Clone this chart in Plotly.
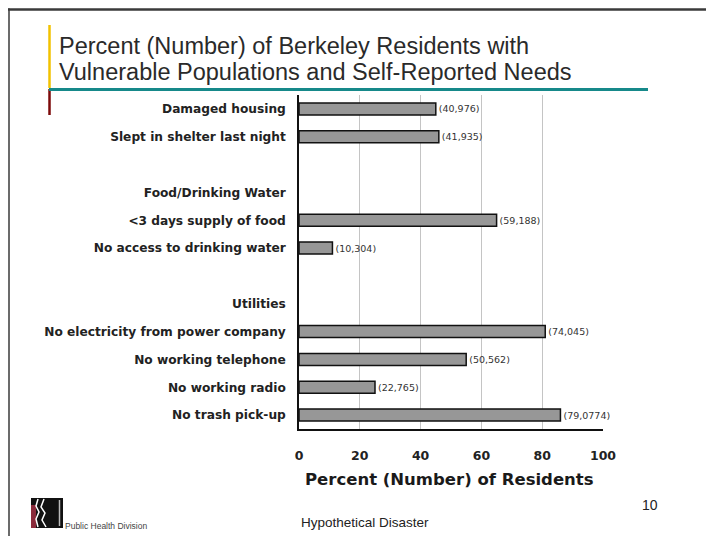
import plotly.graph_objects as go

# Rows from top to bottom; headings and spacer rows carry no bar
labels = [
    "Damaged housing",
    "Slept in shelter last night",
    "",
    "Food/Drinking Water",
    "<3 days supply of food",
    "No access to drinking water",
    "",
    "Utilities",
    "No electricity from power company",
    "No working telephone",
    "No working radio",
    "No trash pick-up",
]
percent = [45, 46, None, None, 65, 11, None, None, 81, 55, 25, 86]
counts = ["(40,976)", "(41,935)", "", "", "(59,188)", "(10,304)", "", "",
          "(74,045)", "(50,562)", "(22,765)", "(79,0774)"]
x_ticks = [0, 20, 40, 60, 80, 100]

W, H = 706, 536
L, R, T, B = 299, 603, 95, 429


def px(x):
    return (x - L) / (R - L)


def py(y):
    return (B - y) / (B - T)


rows = list(range(len(labels)))

fig = go.Figure()
fig.add_trace(go.Bar(
    x=percent,
    y=rows,
    orientation="h",
    width=0.43,
    marker=dict(color="#979797", line=dict(color="#111111", width=1.5)),
    text=counts,
    textposition="outside",
    constraintext="none",
    cliponaxis=False,
    textfont=dict(family="DejaVu Sans", size=9.5, color="#333333"),
    hoverinfo="skip",
))

fig.update_layout(
    width=W, height=H,
    margin=dict(l=L, r=W - R, t=T, b=H - B, pad=0),
    paper_bgcolor="white",
    plot_bgcolor="white",
    showlegend=False,
    bargap=0.57,
    xaxis=dict(
        range=[0, 100],
        tickvals=x_ticks,
        showgrid=True, gridcolor="#c4c4c4", gridwidth=1,
        zeroline=False,
        showline=True, linecolor="#111111", linewidth=1.5,
        ticks="outside", ticklen=14, tickcolor="rgba(0,0,0,0)",
        tickfont=dict(family="DejaVu Sans", size=12.5, color="#222222", weight="bold"),
        fixedrange=True,
    ),
    yaxis=dict(
        range=[len(labels) - 0.5, -0.5],
        tickvals=rows,
        ticktext=labels,
        showgrid=False, zeroline=False,
        showline=True, linecolor="#111111", linewidth=1.5,
        ticks="outside", ticklen=9, tickcolor="rgba(0,0,0,0)",
        tickfont=dict(family="DejaVu Sans", size=12.2, color="#222222", weight="bold"),
        fixedrange=True,
    ),
)

shapes = []
# page frame (top and left edges)
shapes.append(dict(type="line", xref="paper", yref="paper",
                   x0=px(8), x1=px(706), y0=py(9.5), y1=py(9.5),
                   line=dict(color="#3a3a3a", width=2.5)))
shapes.append(dict(type="line", xref="paper", yref="paper",
                   x0=px(9), x1=px(9), y0=py(8.5), y1=py(536),
                   line=dict(color="#3a3a3a", width=1.5)))
# title accent rules
shapes.append(dict(type="line", xref="paper", yref="paper",
                   x0=px(49.5), x1=px(49.5), y0=py(25), y1=py(88),
                   line=dict(color="#f2c200", width=2.5)))
shapes.append(dict(type="line", xref="paper", yref="paper",
                   x0=px(49.5), x1=px(49.5), y0=py(89), y1=py(115),
                   line=dict(color="#7c0a0a", width=2.5)))
shapes.append(dict(type="line", xref="paper", yref="paper",
                   x0=px(49), x1=px(648), y0=py(89.5), y1=py(89.5),
                   line=dict(color="#16898a", width=3)))
# division logo
shapes.append(dict(type="rect", xref="paper", yref="paper",
                   x0=px(31), x1=px(63), y0=py(528), y1=py(498),
                   line=dict(width=0), fillcolor="#111111"))
shapes.append(dict(type="rect", xref="paper", yref="paper",
                   x0=px(31), x1=px(36), y0=py(528), y1=py(505),
                   line=dict(width=0), fillcolor="#8a2a3a"))
shapes.append(dict(type="path", xref="paper", yref="paper",
                   path="M {a},{b} L {c},{d} L {e},{f} L {g},{h} L {i},{j}".format(
                       a=px(38), b=py(499), c=px(36), d=py(506), e=px(39), f=py(512),
                       g=px(36), h=py(519), i=px(38), j=py(527)),
                   line=dict(color="white", width=1.5)))
shapes.append(dict(type="path", xref="paper", yref="paper",
                   path="M {a},{b} L {c},{d} L {e},{f} L {g},{h} L {i},{j}".format(
                       a=px(44), b=py(499), c=px(41), d=py(507), e=px(45), f=py(513),
                       g=px(42), h=py(520), i=px(46), j=py(527)),
                   line=dict(color="white", width=1.5)))
shapes.append(dict(type="line", xref="paper", yref="paper",
                   x0=px(59.5), x1=px(59.5), y0=py(500), y1=py(526),
                   line=dict(color="#bbbbbb", width=1.5)))
fig.update_layout(shapes=shapes)

annotations = [
    dict(text="Percent (Number) of Berkeley Residents with",
         x=px(57), y=py(46), xanchor="left", yanchor="middle",
         font=dict(family="Liberation Sans", size=23.5, color="#2a2a2a")),
    dict(text="Vulnerable Populations and Self-Reported Needs",
         x=px(57), y=py(72), xanchor="left", yanchor="middle",
         font=dict(family="Liberation Sans", size=23.5, color="#2a2a2a")),
    dict(text="<b>Percent (Number) of Residents</b>",
         x=px(449), y=py(479), xanchor="center", yanchor="middle",
         font=dict(family="DejaVu Sans", size=16.5, color="#1a1a1a")),
    dict(text="Hypothetical Disaster",
         x=px(299), y=py(522), xanchor="left", yanchor="middle",
         font=dict(family="Liberation Sans", size=13.5, color="#222222")),
    dict(text="10",
         x=px(650), y=py(505), xanchor="center", yanchor="middle",
         font=dict(family="Liberation Sans", size=14, color="#222222")),
    dict(text="Public Health Division",
         x=px(63), y=py(526), xanchor="left", yanchor="middle",
         font=dict(family="Liberation Sans", size=8.5, color="#444444")),
]
for a in annotations:
    a.update(xref="paper", yref="paper", showarrow=False)
fig.update_layout(annotations=annotations)

fig.write_html("out.html")
